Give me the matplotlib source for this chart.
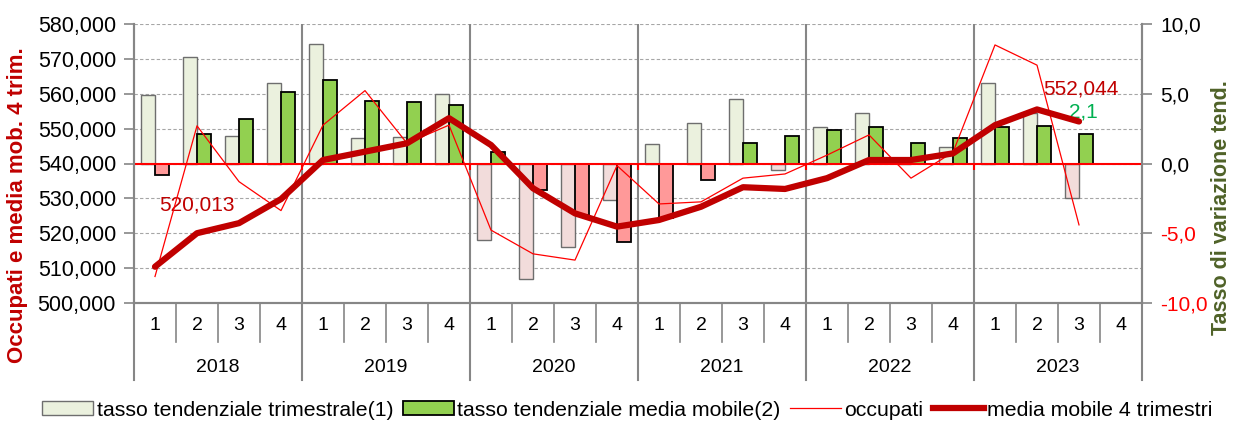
import numpy as np
import matplotlib
matplotlib.use("Agg")
import matplotlib.pyplot as plt
import matplotlib.transforms as mtransforms
from matplotlib.patches import Patch
from matplotlib.lines import Line2D

plt.rcParams['font.family'] = ['Liberation Sans', 'DejaVu Sans']

years = ['2018', '2019', '2020', '2021', '2022', '2023']
quarters = ['1', '2', '3', '4']

# tassi tendenziali (%) - asse destro
tasso_trim = [4.9, 7.6, 2.0, 5.8,
              8.6, 1.8, 1.9, 5.0,
              -5.5, -8.3, -6.0, -2.6,
              1.4, 2.9, 4.6, -0.5,
              2.6, 3.6, 0.0, 1.15,
              5.8, 3.6, -2.5, np.nan]
tasso_mm = [-0.8, 2.1, 3.2, 5.1,
            6.0, 4.5, 4.4, 4.2,
            0.8, -1.9, -3.7, -5.6,
            -3.9, -1.2, 1.5, 2.0,
            2.4, 2.6, 1.45, 1.85,
            2.6, 2.7, 2.1, np.nan]

# occupati e media mobile - asse sinistro
occupati = [507600, 550800, 534800, 526500,
            551000, 560900, 545800, 551000,
            520900, 514100, 512300, 539400,
            528400, 529000, 535800, 537000,
            542400, 548200, 535800, 543200,
            574000, 568200, 522400, np.nan]
media_mobile = [510400, 520013, 522900, 529800,
                541000, 543400, 545800, 553000,
                545300, 532900, 525700, 521900,
                523800, 527600, 533200, 532700,
                535800, 541000, 541000, 542900,
                551000, 555500, 552044, np.nan]

n = len(years) * len(quarters)
x = np.arange(n)

C_DARKRED = '#C00000'
C_GRID = '#A6A6A6'
C_AXIS = '#868686'

fig = plt.figure(figsize=(12.35, 4.21), dpi=100)
ax2 = fig.add_axes([134 / 1235, 1 - 303 / 421, 1008 / 1235, 279 / 421])
ax = ax2.twinx()
ax.yaxis.tick_left()
ax.yaxis.set_label_position('left')
ax2.yaxis.tick_right()
ax2.yaxis.set_label_position('right')
ax.set_zorder(ax2.get_zorder() + 1)
ax.patch.set_visible(False)

# barre sull'asse destro
w = 1 / 3
trim_arr = np.array(tasso_trim)
mm_arr = np.array(tasso_mm)
trim_fc = ['#F2DCDB' if v < 0 else '#EBF1DE' for v in np.nan_to_num(trim_arr)]
mm_fc = ['#FF9999' if v < 0 else '#92D050' for v in np.nan_to_num(mm_arr)]
ax2.bar(x - w / 2, trim_arr, width=w, color=trim_fc, edgecolor='#6E6E6E', linewidth=1.0, zorder=3)
ax2.bar(x + w / 2, mm_arr, width=w, color=mm_fc, edgecolor='black', linewidth=1.3, zorder=3)

ax2.set_xlim(-0.5, n - 0.5)
ax2.set_ylim(-10, 10)
ax2.set_yticks(np.arange(-10, 10.1, 5))
ax2.set_yticklabels([f"{v:.1f}".replace('.', ',') for v in np.arange(-10, 10.1, 5)])
for lab, v in zip(ax2.get_yticklabels(), np.arange(-10, 10.1, 5)):
    lab.set_color('#FF0000' if v < 0 else 'black')
ax2.tick_params(axis='y', labelsize=15, length=7, width=1.2, color=C_AXIS, pad=6)

# griglia tratteggiata e separatori anno
for gy in np.arange(-7.5, 10.1, 2.5):
    ax2.axhline(gy, color=C_GRID, linestyle=(0, (3, 2)), linewidth=0.8, zorder=1)
for k in range(1, len(years)):
    ax2.axvline(4 * k - 0.5, color=C_AXIS, linewidth=1.5, zorder=2)
ax2.axhline(0, color='#FF0000', linewidth=1.5, zorder=4)
ax2.vlines([4 * k - 0.5 for k in range(1, len(years))], -0.5, 0, color='#FF0000',
           linewidth=1.5, zorder=4)

# linee sull'asse sinistro
ax.plot(x, occupati, color='#FF0000', linewidth=0.9, zorder=5)
ax.plot(x, media_mobile, color=C_DARKRED, linewidth=4.5, solid_capstyle='round',
        solid_joinstyle='round', zorder=6)
ax.set_ylim(500000, 580000)
ax.set_yticks(np.arange(500000, 580001, 10000))
ax.set_yticklabels([f"{v:,.0f}" for v in np.arange(500000, 580001, 10000)])
ax.tick_params(axis='y', labelsize=15.5, length=7, width=1.2, color=C_AXIS, pad=6)

ax.annotate(f"{media_mobile[1]:,.0f}", (x[1], media_mobile[1]), xytext=(0, 28),
            textcoords='offset pixels', ha='center', va='center', fontsize=15, color=C_DARKRED)
ax.annotate(f"{media_mobile[22]:,.0f}", (x[22], media_mobile[22]), xytext=(2, 32),
            textcoords='offset pixels', ha='center', va='center', fontsize=15, color=C_DARKRED)
ax2.annotate(f"{tasso_mm[22]:.1f}".replace('.', ','), (x[22] + w / 2, tasso_mm[22]),
             xytext=(-3, 22), textcoords='offset pixels', ha='center', va='center',
             fontsize=15, color='#00B050')

for a in (ax, ax2):
    a.set_xticks([])
    a.spines['top'].set_visible(False)
    for s in ('left', 'right', 'bottom'):
        a.spines[s].set_color(C_AXIS)
        a.spines[s].set_linewidth(1.5)

# asse delle categorie: trimestri e anni
trans = mtransforms.blended_transform_factory(ax2.transData, ax2.transAxes)
for i in range(n):
    ax2.text(x[i], -0.082, quarters[i % 4], transform=trans, ha='center', va='center',
             fontsize=14, clip_on=False)
    if i % 4 != 0:
        ax2.plot([i - 0.5, i - 0.5], [0, -0.14], transform=trans, color=C_AXIS,
                 linewidth=1.2, clip_on=False)
for k, yr in enumerate(years):
    ax2.text(4 * k + 1.5, -0.23, yr, transform=trans, ha='center', va='center',
             fontsize=14, clip_on=False)
for k in range(len(years) + 1):
    ax2.plot([4 * k - 0.5, 4 * k - 0.5], [0, -0.276], transform=trans, color=C_AXIS,
             linewidth=1.5, clip_on=False)

fig.text(0.014, 1 - 205 / 421, 'Occupati e media mob. 4 trim.', rotation=90,
         ha='center', va='center', fontsize=16, fontweight='bold', color=C_DARKRED)
fig.text(0.989, 1 - 208 / 421, 'Tasso di variazione tend.', rotation=90,
         ha='center', va='center', fontsize=15.5, fontweight='bold', color='#4F6228')

handles = [
    Patch(facecolor='#EBF1DE', edgecolor='#6E6E6E', linewidth=1.0),
    Patch(facecolor='#92D050', edgecolor='black', linewidth=1.3),
    Line2D([], [], color='#FF0000', linewidth=0.9),
    Line2D([], [], color=C_DARKRED, linewidth=4.5),
]
labels = ['tasso tendenziale trimestrale(1)', 'tasso tendenziale media mobile(2)',
          'occupati', 'media mobile 4 trimestri']
fig.legend(handles, labels, loc='center', bbox_to_anchor=(0.508, 1 - 410 / 421), ncol=4,
           frameon=False, fontsize=15.3, handlelength=2.4, handleheight=0.6,
           handletextpad=0.15, columnspacing=0.45, borderaxespad=0)

fig.savefig('out.png', dpi=100)
